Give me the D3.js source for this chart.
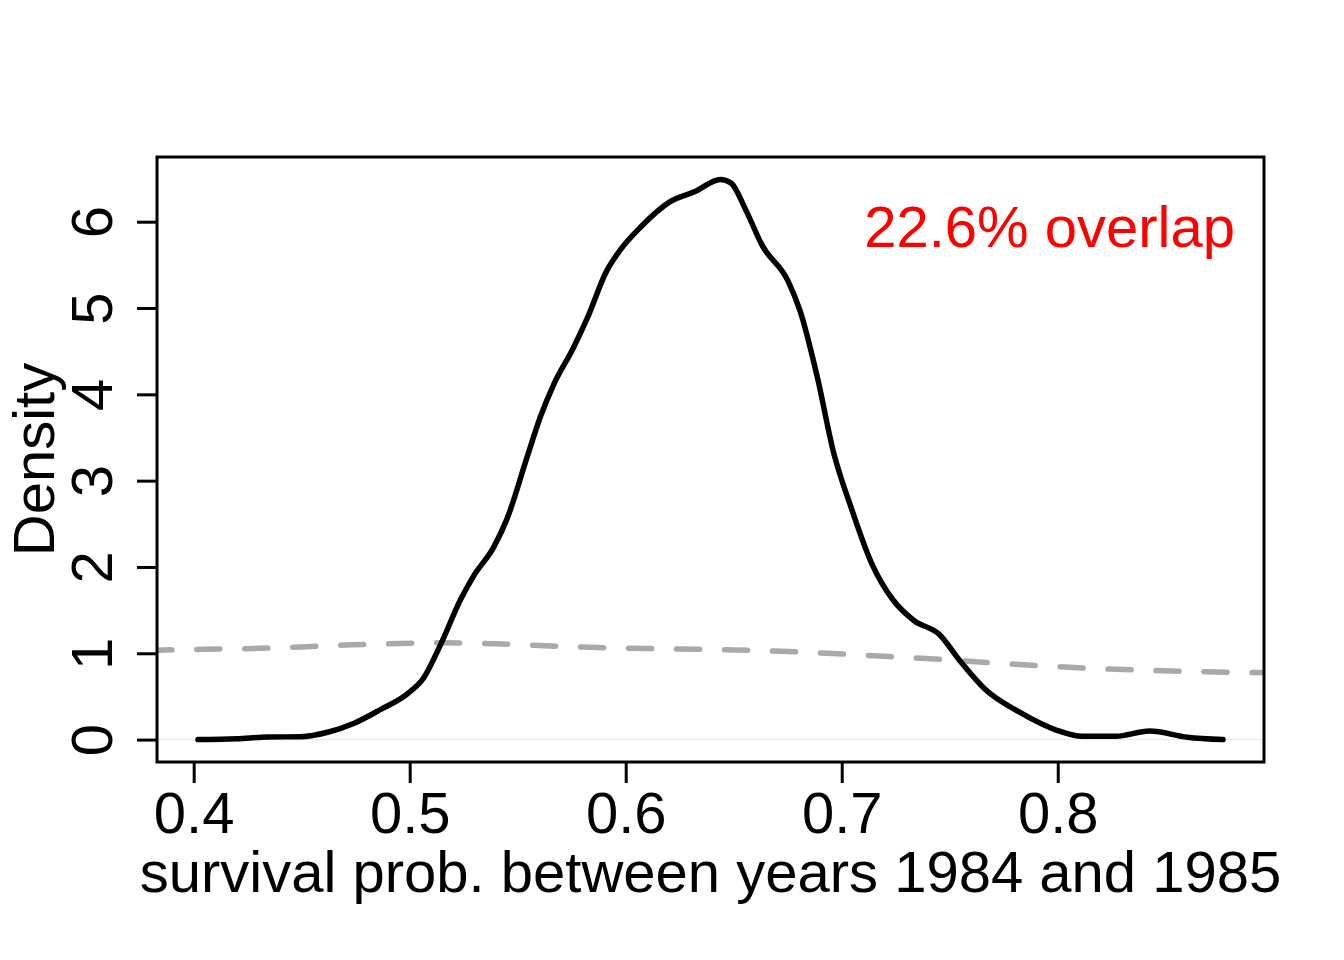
<!DOCTYPE html>
<html>
<head>
<meta charset="utf-8">
<script src="https://cdn.jsdelivr.net/npm/d3@7"></script>
<style>
    body { margin: 0; background: #fff; }
    svg { display: block; font-family: "Liberation Sans", Arial, sans-serif; }
</style>
</head>
<body>
<div id="chart"></div>
<script>
//posterior density of the survival prob
var postX = [0.402, 0.42, 0.4343, 0.4497, 0.462, 0.4743, 0.4866, 0.4989, 0.5066, 0.5143,
    0.5235, 0.5297, 0.5389, 0.5451, 0.5543, 0.5605, 0.5666, 0.5758, 0.582, 0.5912,
    0.5974, 0.6066, 0.6204, 0.6321, 0.6438, 0.6487, 0.6555, 0.6633, 0.675, 0.6808,
    0.6886, 0.6964, 0.7042, 0.7139, 0.7237, 0.7334, 0.7451, 0.7548, 0.7665, 0.7821,
    0.7996, 0.8113, 0.8269, 0.8425, 0.86, 0.8765];
var postDensity = [0, 0.01, 0.03, 0.033, 0.085, 0.19, 0.35, 0.53, 0.72, 1.10,
    1.62, 1.90, 2.23, 2.56, 3.27, 3.74, 4.11, 4.54, 4.87, 5.43,
    5.67, 5.93, 6.23, 6.35, 6.49, 6.45, 6.14, 5.72, 5.32, 4.96,
    4.21, 3.31, 2.70, 2.04, 1.62, 1.38, 1.22, 0.91, 0.58, 0.32,
    0.108, 0.038, 0.038, 0.099, 0.028, 0];

//prior density (the grey dashed one)
var priorX = [0.357, 0.38, 0.405, 0.43, 0.45, 0.47, 0.495, 0.515, 0.54, 0.56, 0.58, 0.61,
    0.64, 0.66, 0.68, 0.705, 0.725, 0.75, 0.77, 0.795, 0.815, 0.84, 0.865, 0.89, 0.91];
var priorDensity = [1.02, 1.035, 1.046, 1.057, 1.074, 1.096, 1.112, 1.122, 1.11, 1.09, 1.072, 1.055,
    1.045, 1.032, 1.015, 0.985, 0.958, 0.923, 0.888, 0.852, 0.825, 0.804, 0.787, 0.778, 0.773];

var xTicks = [0.4, 0.5, 0.6, 0.7, 0.8];
var yTicks = [0, 1, 2, 3, 4, 5, 6];
var xTitle = "survival prob. between years 1984 and 1985";
var yTitle = "Density";
var overlapLabel = "22.6% overlap";

var width = 1344, height = 960;
var box = {left: 157, right: 1264, top: 157, bottom: 762};
var fontSize = 58;

var svg = d3.select("#chart").append("svg")
    .attr("width", width)
    .attr("height", height);

// R pads the data range by 4% on each side
function padded(values) {
    var ext = d3.extent(values);
    var r = ext[1] - ext[0];
    return [ext[0] - 0.04 * r, ext[1] + 0.04 * r];
}

var x = d3.scaleLinear().domain(padded(postX)).range([box.left, box.right]);
var y = d3.scaleLinear().domain(padded(postDensity)).range([box.bottom, box.top]);

svg.append("clipPath").attr("id", "plotclip")
    .append("rect")
    .attr("x", box.left).attr("y", box.top)
    .attr("width", box.right - box.left)
    .attr("height", box.bottom - box.top);

var plot = svg.append("g").attr("clip-path", "url(#plotclip)");

// zero line like plot.density draws
plot.append("line")
    .attr("x1", box.left).attr("x2", box.right)
    .attr("y1", y(0)).attr("y2", y(0))
    .attr("stroke", "#e6e6e6")
    .attr("stroke-width", 1);

var line = d3.line()
    .x(function (d) { return x(d[0]); })
    .y(function (d) { return y(d[1]); })
    .curve(d3.curveMonotoneX);

plot.append("path")
    .datum(d3.zip(priorX, priorDensity))
    .attr("d", line)
    .attr("fill", "none")
    .attr("stroke", "#a9a9a9")
    .attr("stroke-width", 5.5)
    .attr("stroke-linecap", "round")
    .attr("stroke-dasharray", "23,25");

plot.append("path")
    .datum(d3.zip(postX, postDensity))
    .attr("d", line)
    .attr("fill", "none")
    .attr("stroke", "#000")
    .attr("stroke-width", 5.5)
    .attr("stroke-linecap", "round")
    .attr("stroke-linejoin", "round");

// axes (R style: ticks outside, labels below / rotated on the left)
var xAxis = svg.append("g")
    .attr("transform", "translate(0," + box.bottom + ")")
    .call(d3.axisBottom(x).tickValues(xTicks).tickSize(21).tickPadding(10).tickFormat(d3.format(".1f")));
xAxis.select(".domain").remove();
xAxis.selectAll("line").attr("stroke", "#000").attr("stroke-width", 3);
xAxis.selectAll("text")
    .attr("font-size", fontSize)
    .attr("fill", "#000")
    .attr("dy", null)
    .attr("y", 833 - box.bottom);

var yAxis = svg.append("g")
    .attr("transform", "translate(" + box.left + ",0)")
    .call(d3.axisLeft(y).tickValues(yTicks).tickSize(20).tickFormat(d3.format("d")));
yAxis.select(".domain").remove();
yAxis.selectAll("line").attr("stroke", "#000").attr("stroke-width", 3);
yAxis.selectAll("text")
    .attr("font-size", fontSize)
    .attr("fill", "#000")
    .attr("x", null)
    .attr("dy", null)
    .attr("text-anchor", "middle")
    .attr("transform", "translate(" + (112 - box.left) + ",0) rotate(-90)");

// the box round the plot
svg.append("rect")
    .attr("x", box.left).attr("y", box.top)
    .attr("width", box.right - box.left)
    .attr("height", box.bottom - box.top)
    .attr("fill", "none")
    .attr("stroke", "#000")
    .attr("stroke-width", 3);

svg.append("text")
    .attr("x", (box.left + box.right) / 2)
    .attr("y", 892)
    .attr("text-anchor", "middle")
    .attr("font-size", fontSize)
    .text(xTitle);

svg.append("text")
    .attr("transform", "translate(54," + (box.top + box.bottom) / 2 + ") rotate(-90)")
    .attr("text-anchor", "middle")
    .attr("font-size", fontSize)
    .text(yTitle);

svg.append("text")
    .attr("x", 1235)
    .attr("y", 247)
    .attr("text-anchor", "end")
    .attr("font-size", fontSize)
    .attr("fill", "#ff0000")
    .text(overlapLabel);
</script>
</body>
</html>
